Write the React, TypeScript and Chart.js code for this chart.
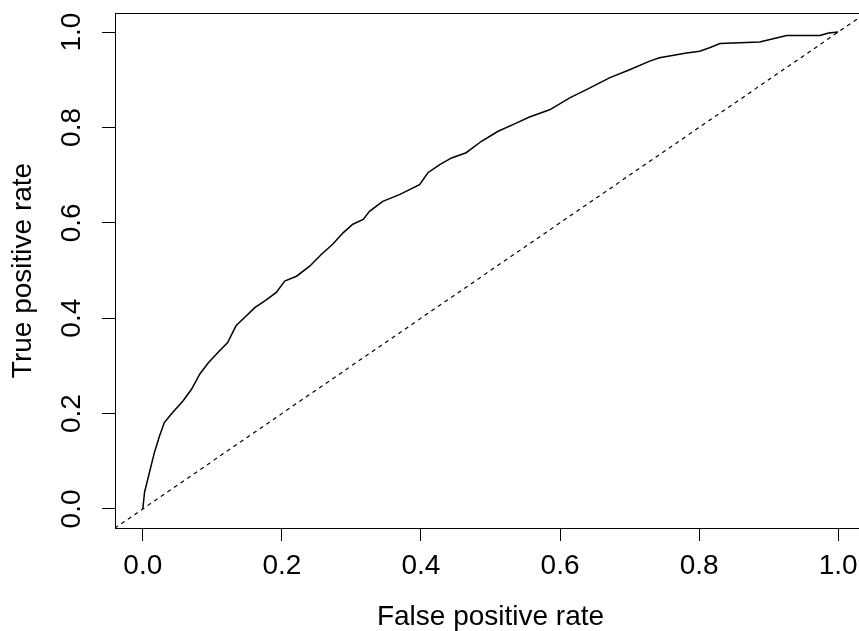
import React, { useEffect, useRef } from "react";
import { Chart, registerables } from "chart.js";

Chart.register(...registerables);

const fpr = [0, 0.0025, 0.0096, 0.0168, 0.024, 0.031, 0.041, 0.058, 0.07, 0.082, 0.094, 0.11, 0.122, 0.134, 0.146, 0.161, 0.175, 0.192, 0.204, 0.221, 0.24, 0.257, 0.273, 0.288, 0.302, 0.317, 0.326, 0.345, 0.369, 0.398, 0.41, 0.427, 0.444, 0.465, 0.487, 0.511, 0.537, 0.556, 0.585, 0.614, 0.643, 0.671, 0.7, 0.729, 0.743, 0.782, 0.801, 0.815, 0.83, 0.887, 0.926, 0.974, 0.986, 1.0];
const tpr = [0, 0.035, 0.077, 0.119, 0.153, 0.181, 0.199, 0.227, 0.251, 0.283, 0.306, 0.331, 0.349, 0.384, 0.401, 0.422, 0.436, 0.454, 0.478, 0.488, 0.509, 0.534, 0.555, 0.579, 0.597, 0.607, 0.624, 0.645, 0.659, 0.68, 0.705, 0.722, 0.736, 0.747, 0.771, 0.792, 0.809, 0.822, 0.837, 0.862, 0.883, 0.904, 0.921, 0.939, 0.946, 0.956, 0.96, 0.967, 0.976, 0.979, 0.993, 0.993, 0.998, 1.0];
const diagonal = [-0.05, 1.05];
const tickValues = [0, 0.2, 0.4, 0.6, 0.8, 1.0];
const xTitle = "False positive rate";
const yTitle = "True positive rate";

const FONT = "'Liberation Sans', Arial, Helvetica, sans-serif";

const zeroPad = (s: any) => {
  s.paddingTop = 0;
  s.paddingBottom = 0;
  s.paddingLeft = 0;
  s.paddingRight = 0;
};

export default function App() {
  const ref = useRef<HTMLCanvasElement | null>(null);
  useEffect(() => {
    if (!ref.current) return;
    const boxPlugin = {
      id: "box",
      afterDraw(chart: any) {
        const { ctx, chartArea } = chart;
        ctx.save();
        ctx.strokeStyle = "#000";
        ctx.lineWidth = 1;
        ctx.strokeRect(
          Math.round(chartArea.left) + 0.5,
          Math.round(chartArea.top) + 0.5,
          Math.round(chartArea.right - chartArea.left),
          Math.round(chartArea.bottom - chartArea.top)
        );
        ctx.restore();
      },
    };
    const chart = new Chart(ref.current, {
      type: "scatter",
      data: {
        datasets: [
          {
            data: fpr.map((x, i) => ({ x, y: tpr[i] })),
            showLine: true,
            borderColor: "#000",
            borderWidth: 1.5,
            pointRadius: 0,
            tension: 0,
          },
          {
            data: diagonal.map((v) => ({ x: v, y: v })),
            showLine: true,
            borderColor: "#000",
            borderWidth: 1.2,
            borderDash: [4, 4],
            pointRadius: 0,
          },
        ],
      },
      options: {
        responsive: false,
        animation: false,
        events: [],
        layout: { padding: { top: 13, right: 1, left: 0, bottom: 0 } },
        plugins: { legend: { display: false }, tooltip: { enabled: false } },
        scales: {
          x: {
            type: "linear",
            min: -0.04,
            max: 1.04,
            afterBuildTicks: (s: any) => {
              s.ticks = tickValues.map((v) => ({ value: v }));
            },
            afterFit: (s: any) => {
              s.height = 103;
              zeroPad(s);
            },
            border: { display: false },
            grid: { display: true, drawOnChartArea: false, drawTicks: true, tickLength: 13, tickColor: "#000", tickWidth: 1 },
            ticks: {
              color: "#000",
              font: { family: FONT, size: 28, lineHeight: 1 },
              padding: 11,
              maxRotation: 0,
              autoSkip: false,
              callback: (v: any) => Number(v).toFixed(1),
            },
            title: {
              display: true,
              text: xTitle,
              color: "#000",
              font: { family: FONT, size: 28, lineHeight: 1 },
              padding: { top: 0, bottom: 0 },
            },
          },
          y: {
            type: "linear",
            min: -0.04,
            max: 1.04,
            afterBuildTicks: (s: any) => {
              s.ticks = tickValues.map((v) => ({ value: v }));
            },
            afterFit: (s: any) => {
              s.width = 115;
              zeroPad(s);
            },
            border: { display: false },
            grid: { display: true, drawOnChartArea: false, drawTicks: true, tickLength: 13, tickColor: "#000", tickWidth: 1 },
            ticks: {
              color: "#000",
              font: { family: FONT, size: 28, lineHeight: 1 },
              padding: 10,
              minRotation: 90,
              maxRotation: 90,
              crossAlign: "center",
              autoSkip: false,
              callback: (v: any) => Number(v).toFixed(1),
            },
            title: {
              display: true,
              text: yTitle,
              color: "#000",
              font: { family: FONT, size: 28, lineHeight: 1 },
              padding: { top: 9, bottom: 0 },
            },
          },
        },
      },
      plugins: [boxPlugin],
    });
    return () => chart.destroy();
  }, []);
  return (
    <div style={{ position: "fixed", left: 0, top: 0, width: 859, height: 631, overflow: "hidden", background: "#fff" }}>
      <canvas ref={ref} width={867} height={631} style={{ display: "block" }} />
    </div>
  );
}
